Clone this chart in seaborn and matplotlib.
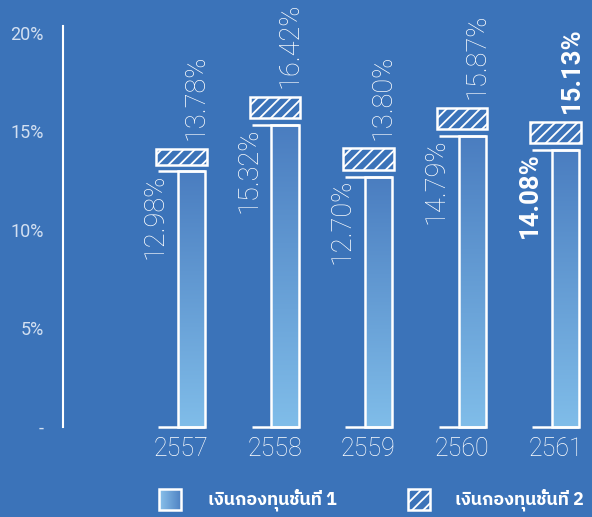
import numpy as np
import pandas as pd
import matplotlib
matplotlib.use("Agg")
import matplotlib.pyplot as plt
import seaborn as sns
from matplotlib import font_manager
from matplotlib.ft2font import FT2Font
from matplotlib.patches import Rectangle
from matplotlib.colors import LinearSegmentedColormap

# Capital adequacy ratios by year
years = ["2557", "2558", "2559", "2560", "2561"]
tier1 = [12.98, 15.32, 12.70, 14.79, 14.08]
total = [13.78, 16.42, 13.80, 15.87, 15.13]
tier1_labels = ["12.98%", "15.32%", "12.70%", "14.79%", "14.08%"]
total_labels = ["13.78%", "16.42%", "13.80%", "15.87%", "15.13%"]
ytick_values = [0, 5, 10, 15, 20]
ytick_labels = ["-", "5%", "10%", "15%", "20%"]
legend_labels = ["เงินกองทุนชั้นที่ 1", "เงินกองทุนชั้นที่ 2"]

BG = "#3b73b9"
WHITE = "#ffffff"
TEXT = "#ffffff"
TICK = "#d3e0f1"
bar_cmap = LinearSegmentedColormap.from_list("bar", ["#80bde9", "#4a7dc0"])


def thai_family():
    """Return the first installed family that has Thai glyphs."""
    preferred = []
    others = []
    for fe in font_manager.fontManager.ttflist:
        try:
            cmap = FT2Font(fe.fname).get_charmap()
        except Exception:
            continue
        if ord("ก") in cmap:
            (preferred if "Thai" in fe.name else others).append(fe.name)
    for names in (preferred, others):
        if names:
            return names[0]
    return "DejaVu Sans"


sns.set_theme(style="white")
plt.rcParams["font.family"] = ["Roboto", "DejaVu Sans"]
plt.rcParams["hatch.color"] = WHITE
plt.rcParams["hatch.linewidth"] = 1.3
THAI = thai_family()

fig = plt.figure(figsize=(5.92, 5.17), dpi=100, facecolor=BG)
ax = fig.add_axes([63 / 592, 90 / 517, 529 / 592, 401 / 517])
ax.set_facecolor(BG)

# Tier 1 bars
df = pd.DataFrame({"year": years, "tier1": tier1})
bar_w = 0.289
sns.barplot(data=df, x="year", y="tier1", width=bar_w, color=BG,
            edgecolor=WHITE, linewidth=1.8, ax=ax, zorder=3)

grad = np.linspace(0, 1, 256).reshape(-1, 1)
for patch in list(ax.patches):
    patch.set_facecolor("none")
    patch.set_clip_on(False)
    x0, y0 = patch.get_x(), patch.get_y()
    w, h = patch.get_width(), patch.get_height()
    im = ax.imshow(grad, extent=[x0, x0 + w, y0, y0 + h], origin="lower",
                   cmap=bar_cmap, aspect="auto", zorder=2)
    im.set_clip_path(patch)

xs = np.arange(len(years))
left_ext = 0.358
box_off = -0.107
box_w = 0.545
gap = 0.34

# Cap and base lines extending to the left of each bar
ax.hlines(tier1, xs - left_ext, xs + bar_w / 2, color=WHITE, lw=1.8, zorder=4)
ax.hlines([0] * len(xs), xs - left_ext, xs + bar_w / 2, color=WHITE, lw=1.8,
          zorder=4, clip_on=False)

# Tier 2 hatched boxes sitting above the tier 1 bars
tier2 = np.array(total) - np.array(tier1)
ax.bar(xs + box_off, tier2, bottom=np.array(tier1) + gap, width=box_w,
       color=BG, edgecolor=WHITE, linewidth=1.8, hatch="///", zorder=3)

# Value labels
for i in xs:
    last = i == len(xs) - 1
    weight = "bold" if last else "light"
    size = 18.5 if last else 19.5
    ax.text(i - 0.385, tier1[i] - 0.12, tier1_labels[i], rotation=90,
            ha="center", va="top", fontsize=size, fontweight=weight,
            color=TEXT, zorder=5)
    ax.text(i + (0.07 if last else 0.05), total[i] + gap + 0.45,
            total_labels[i], rotation=90, ha="center", va="bottom",
            fontsize=size, fontweight=weight, color=TEXT,
            zorder=5, clip_on=False)

ax.set_xlim(-1.374, 4.283)
ax.set_ylim(0, 20.35)
ax.set_xticks(xs + box_off)
ax.set_xticklabels(years, fontsize=18, fontweight="light", color=TEXT)
ax.set_yticks(ytick_values)
ax.set_yticklabels(ytick_labels, fontsize=13, color=TICK)
ax.tick_params(axis="x", length=0, pad=7)
ax.tick_params(axis="y", length=0, pad=14)
ax.set_xlabel("")
ax.set_ylabel("")
for side in ("top", "right", "bottom"):
    ax.spines[side].set_visible(False)
ax.spines["left"].set_color(WHITE)
ax.spines["left"].set_linewidth(1.5)

# Legend
lax = fig.add_axes([0, 0, 1, 1], facecolor="none")
lax.set_xlim(0, 592)
lax.set_ylim(517, 0)
lax.axis("off")

hgrad = np.linspace(0, 1, 256).reshape(1, -1)
icon1 = Rectangle((159, 489), 22, 21, facecolor="none", edgecolor=WHITE, lw=1.8)
lax.add_patch(icon1)
leg_cmap = LinearSegmentedColormap.from_list("leg", ["#8cc3ec", "#4f82c3"])
lim = lax.imshow(hgrad, extent=[159, 181, 510, 489], cmap=leg_cmap, aspect="auto", zorder=0)
lim.set_clip_path(icon1)
icon2 = Rectangle((408, 489), 22, 21, facecolor=BG, edgecolor=WHITE, lw=1.8, hatch="///")
lax.add_patch(icon2)
lax.set_xlim(0, 592)
lax.set_ylim(517, 0)

lax.text(208, 499.5, legend_labels[0], ha="left", va="center", fontsize=12.8,
         fontweight="bold", color=WHITE, family=[THAI, "DejaVu Sans"])
lax.text(455, 499.5, legend_labels[1], ha="left", va="center", fontsize=12.8,
         fontweight="bold", color=WHITE, family=[THAI, "DejaVu Sans"])

fig.savefig("out.png", dpi=100, facecolor=BG)
